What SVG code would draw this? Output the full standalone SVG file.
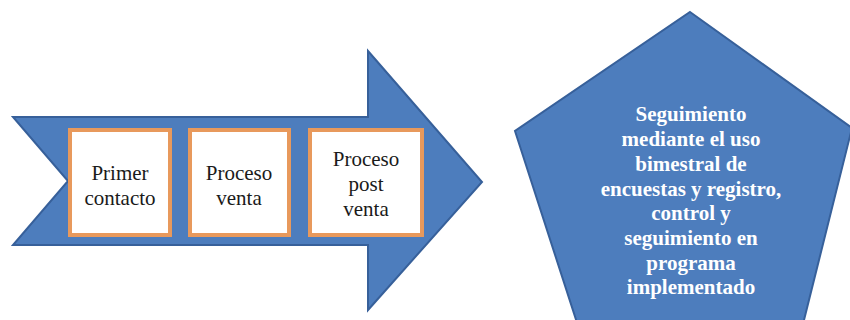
<svg xmlns="http://www.w3.org/2000/svg" width="850" height="320" viewBox="0 0 850 320">
  <style>
    .shape { fill: #4d7dbd; stroke: #37609a; stroke-width: 2; stroke-linejoin: miter; }
    .box rect { fill: #ffffff; stroke: #e8995c; stroke-width: 4; }
    .box text { font-family: 'Liberation Serif', 'Times New Roman', serif; font-size: 21px; fill: #1a1a1a; text-anchor: middle; }
    .goal text { font-family: 'Liberation Serif', 'Times New Roman', serif; font-size: 21px; font-weight: bold; fill: #ffffff; text-anchor: middle; }
  </style>
  <rect width="850" height="320" fill="#ffffff"/>

  <!-- process arrow -->
  <g id="process-arrow">
    <polygon class="shape" points="13,117 368,117 368,51 482,182 368,310 368,245 13,245 68,181"/>
  </g>

  <g id="stage-primer-contacto" class="box">
    <rect x="70" y="130" width="100" height="105"/>
    <text x="120" y="180">Primer</text>
    <text x="120" y="205">contacto</text>
  </g>

  <g id="stage-proceso-venta" class="box">
    <rect x="190" y="130" width="99" height="105"/>
    <text x="239" y="180">Proceso</text>
    <text x="239" y="205">venta</text>
  </g>

  <g id="stage-post-venta" class="box">
    <rect x="310" y="130" width="112" height="105"/>
    <text x="366" y="166">Proceso</text>
    <text x="366" y="191">post</text>
    <text x="366" y="216">venta</text>
  </g>

  <!-- follow-up pentagon -->
  <g id="seguimiento" class="goal">
    <polygon class="shape" points="690,12 852,128 801,332 580,332 515,131"/>
    <text x="691" y="121">Seguimiento</text>
    <text x="691" y="146">mediante el uso</text>
    <text x="691" y="171">bimestral de</text>
    <text x="691" y="196">encuestas y registro,</text>
    <text x="691" y="220">control y</text>
    <text x="691" y="245">seguimiento en</text>
    <text x="691" y="270">programa</text>
    <text x="691" y="294">implementado</text>
  </g>
</svg>
